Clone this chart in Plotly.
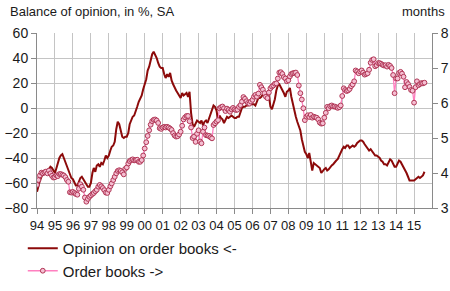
import pandas as pd
import plotly.graph_objects as go

# Monthly values, Jan 1994 - Aug 2015
opinion = [
    -67, -62, -58, -55, -52, -52, -51, -51, -49, -47, -48, -50,   # 1994
    -52, -48, -44, -40, -38, -37, -40, -43, -46, -50, -53, -56,   # 1995
    -57, -59, -62, -62, -59, -56, -55, -57, -60, -62, -63, -63,   # 1996
    -60, -52, -48, -51, -46, -45, -47, -44, -45, -42, -38, -40,   # 1997
    -38, -34, -31, -30, -27, -17, -11, -13, -19, -23, -24, -23,   # 1998
    -23, -20, -13, -9, -7, -6, -3, 1, 5, 7, 10, 15,               # 1999
    19, 23, 30, 33, 38, 43, 45, 43, 40, 36, 33, 32,               # 2000
    32, 27, 24, 27, 25, 28, 22, 19, 16, 14, 12, 10,               # 2001
    8, 12, 10, 11, 12, 9, 13, -4, -13, -15, -13, -10,             # 2002
    -11, -12, -10, -14, -11, -10, -12, -8, -5, 0, 2, 1,           # 2003
    -2, -10, -6, -8, -9, -12, -9, -7, -8, -7, -6, -7,             # 2004
    -8, -8, -7, -7, -4, 0, 1, 1, 2, 2, 3, 4,                      # 2005
    3, 3, 2, 5, 8, 8, 9, 11, 11, 8, 7, 10,                        # 2006
    1, -1, 3, 7, 14, 18, 19, 17, 15, 12, 9, 13,                   # 2007
    14, 16, 9, 3, -2, -7, -11, -14, -18, -25, -30, -35,           # 2008
    -37, -40, -36, -42, -50, -44, -45, -46, -47, -48, -52, -50,   # 2009
    -49, -48, -50, -49, -47, -46, -45, -43, -42, -41, -38, -35,   # 2010
    -33, -31, -32, -30, -30, -32, -31, -30, -31, -30, -28, -27,   # 2011
    -26, -26, -27, -29, -31, -32, -34, -33, -35, -37, -38, -38,   # 2012
    -39, -40, -42, -43, -45, -45, -46, -43, -41, -42, -45, -47,   # 2013
    -47, -44, -42, -43, -45, -48, -50, -52, -55, -58, -58, -58,   # 2014
    -58, -57, -56, -55, -56, -55, -54, -51,                       # 2015
]

order_books = [
    3.66, 3.80, 3.93, 4.01, 3.99, 4.02, 4.04, 3.99, 4.07, 3.99, 3.92, 3.87,  # 1994
    3.88, 3.93, 3.91, 3.97, 3.97, 3.95, 3.93, 3.88, 3.80, 3.75, 3.45, 3.44,  # 1995
    3.46, 3.43, 3.40, 3.38, 3.55, 3.68, 3.61, 3.52, 3.30, 3.18, 3.26, 3.32,  # 1996
    3.36, 3.40, 3.43, 3.48, 3.52, 3.61, 3.66, 3.62, 3.57, 3.51, 3.44, 3.43,  # 1997
    3.52, 3.62, 3.70, 3.80, 3.89, 3.99, 4.06, 4.08, 4.06, 4.02, 3.96, 4.12,  # 1998
    4.16, 4.27, 4.34, 4.37, 4.39, 4.36, 4.37, 4.38, 4.32, 4.32, 4.37, 4.50,  # 1999
    4.70, 4.88, 5.06, 5.22, 5.38, 5.48, 5.52, 5.53, 5.50, 5.43, 5.28, 5.26,  # 2000
    5.30, 5.32, 5.30, 5.32, 5.30, 5.27, 5.23, 5.14, 5.07, 5.04, 5.05, 5.10,  # 2001
    5.18, 5.35, 5.53, 5.59, 5.63, 5.63, 5.48, 5.30, 5.00, 5.04, 4.89, 5.12,  # 2002
    5.22, 4.90, 4.85, 5.18, 5.30, 5.08, 5.07, 5.06, 5.02, 4.99, 5.37, 5.42,  # 2003
    5.47, 5.51, 5.85, 5.88, 5.90, 5.85, 5.77, 5.84, 5.80, 5.75, 5.82, 5.86,  # 2004
    5.82, 5.80, 5.81, 5.89, 5.94, 6.04, 6.17, 6.12, 6.05, 6.00, 5.98, 6.04,  # 2005
    6.09, 6.18, 6.23, 6.18, 6.27, 6.52, 6.45, 6.38, 6.28, 6.18, 6.14, 6.30,  # 2006
    6.42, 6.47, 6.50, 6.55, 6.56, 6.70, 6.87, 6.88, 6.83, 6.74, 6.70, 6.62,  # 2007
    6.65, 6.76, 6.83, 6.85, 6.86, 6.87, 6.80, 6.50, 6.28, 6.10, 5.85, 5.51,  # 2008
    5.61, 5.65, 5.60, 5.66, 5.58, 5.61, 5.59, 5.58, 5.53, 5.44, 5.41, 5.42,  # 2009
    5.58, 5.72, 5.89, 5.85, 5.91, 5.93, 5.90, 5.90, 5.88, 5.86, 5.88, 5.93,  # 2010
    6.20, 6.42, 6.37, 6.34, 6.36, 6.40, 6.48, 6.53, 6.62, 6.93, 6.90, 6.85,  # 2011
    6.90, 6.93, 6.87, 6.81, 6.83, 6.85, 6.95, 7.15, 7.23, 7.25, 7.05, 7.08,  # 2012
    7.14, 7.14, 7.12, 7.09, 7.07, 7.08, 7.04, 7.09, 7.06, 7.00, 6.80, 6.28,  # 2013
    6.70, 6.70, 6.86, 6.89, 6.84, 6.75, 6.45, 6.60, 6.54, 6.46, 6.37, 6.35,  # 2014
    6.01, 6.45, 6.62, 6.51, 6.54, 6.57, 6.56, 6.58,                          # 2015
]

year_labels = ["94", "95", "96", "97", "98", "99", "00", "01", "02", "03", "04",
               "05", "06", "07", "08", "09", "10", "11", "12", "13", "14", "15"]
left_ticks = [-80, -60, -40, -20, 0, 20, 40, 60]
right_ticks = [3, 4, 5, 6, 7, 8]

dates = pd.date_range("1994-01-01", periods=len(opinion), freq="MS")
year_ticks = pd.date_range("1994-01-01", periods=len(year_labels), freq="YS")

FONT = "Liberation Sans, Arial, sans-serif"
TXT = "#1a1a1a"
GRID = "#c4c4c4"
AXIS = "#8a8a8a"

fig = go.Figure()
fig.add_trace(go.Scatter(
    x=dates, y=opinion, name="Opinion on order books <-",
    mode="lines", line=dict(color="#8c0a0a", width=2),
    yaxis="y"))
fig.add_trace(go.Scatter(
    x=dates, y=order_books, name="Order books ->",
    mode="lines+markers", line=dict(color="#ff80c0", width=1.3),
    marker=dict(symbol="circle", size=4.8, color="#f5bfd2",
                line=dict(color="#b03555", width=1)),
    yaxis="y2"))

fig.update_layout(
    width=450, height=291,
    margin=dict(l=37, r=18, t=33, b=83, autoexpand=False),
    paper_bgcolor="white", plot_bgcolor="white",
    font=dict(family=FONT, size=13, color=TXT),
    showlegend=True,
    legend=dict(x=-0.036, y=-0.137, xanchor="left", yanchor="top",
                bgcolor="white", borderwidth=0,
                font=dict(family=FONT, size=15, color=TXT),
                tracegroupgap=0),
    xaxis=dict(
        type="date",
        range=["1994-01-01", "2016-01-01"],
        tickvals=year_ticks, ticktext=year_labels,
        showgrid=True, gridcolor=GRID, gridwidth=1,
        showline=True, linecolor=AXIS, linewidth=1,
        ticks="outside", ticklen=5, tickcolor=AXIS,
        tickfont=dict(size=13), zeroline=False),
    yaxis=dict(
        range=[-80, 60], tickvals=left_ticks,
        showgrid=True, gridcolor=GRID, gridwidth=1,
        showline=True, linecolor=AXIS, linewidth=1,
        ticks="outside", ticklen=5, tickcolor=AXIS,
        tickfont=dict(size=14), zeroline=False),
    yaxis2=dict(
        range=[3, 8], tickvals=right_ticks,
        overlaying="y", side="right",
        showgrid=False, showline=True, linecolor=AXIS, linewidth=1,
        ticks="outside", ticklen=5, tickcolor=AXIS,
        tickfont=dict(size=14), zeroline=False),
    annotations=[
        dict(text="Balance of opinion, in %, SA", xref="paper", yref="paper",
             x=-0.073, y=1.12, xanchor="left", yanchor="middle",
             showarrow=False, font=dict(size=13, color=TXT)),
        dict(text="months", xref="paper", yref="paper",
             x=1.038, y=1.12, xanchor="right", yanchor="middle",
             showarrow=False, font=dict(size=13, color=TXT)),
    ],
)

fig.write_html("out.html")
